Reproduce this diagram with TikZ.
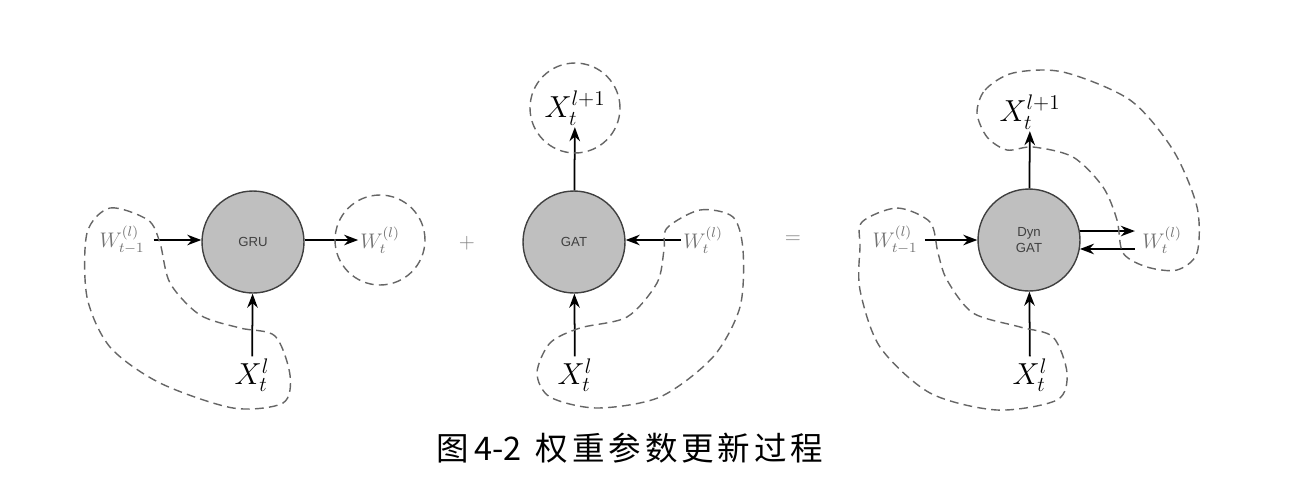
\documentclass[tikz,border=0pt]{standalone}
\usepackage{amsmath}
\usepackage{fontspec}
\newfontfamily\cjk{Noto Sans CJK SC}
\newfontfamily\cjkwide[LetterSpace=12]{Noto Sans CJK SC}
\newfontfamily\unitfont{Liberation Sans}
\usetikzlibrary{arrows.meta}

\begin{document}
\begin{tikzpicture} [
    x=0.02cm, y=-0.02cm,
    unit/.style  = { circle, draw=black!75, thick, fill=black!25,
                     minimum size=2.04cm, inner sep=0pt, align=center,
                     font=\unitfont\fontsize{7.5}{9}\selectfont, text=black!75 },
    var/.style   = { inner sep=1pt, font=\fontsize{18}{20}\selectfont },
    wvar/.style  = { inner sep=1pt, font=\fontsize{12}{14}\selectfont, text=black!55 },
    op/.style    = { font=\fontsize{12}{14}\selectfont, text=black!50 },
    line/.style  = { draw, line width=1pt, -{Stealth[length=8pt, width=6pt]} },
    hull/.style  = { draw=black!60, thick, dash pattern=on 5pt off 3pt },
  ]
  \useasboundingbox (0,0) rectangle (1291,481);

  % GRU
  \node[unit] (gru)    at (253,242) {GRU};
  \node[wvar] (wprev1) at (122,240) {$W_{t-1}^{(l)}$};
  \node[wvar] (wcur1)  at (380,240) {$W_t^{(l)}$};
  \node[var]  (xin1)   at (252,375) {$X_t^l$};
  \node[op]   (plus)   at (467,243) {+};

  % GAT
  \node[unit] (gat)    at (574,242) {GAT};
  \node[var]  (xout2)  at (575,108) {$X_t^{l+1}$};
  \node[wvar] (wcur2)  at (703,240) {$W_t^{(l)}$};
  \node[var]  (xin2)   at (575,375) {$X_t^l$};
  \node[op]   (equal)  at (793,240) {=};

  % DynGAT
  \node[unit] (dyn)    at (1029,240) {Dyn\\GAT};
  \node[wvar] (wprev3) at (895,240) {$W_{t-1}^{(l)}$};
  \node[var]  (xout3)  at (1030,112) {$X_t^{l+1}$};
  \node[wvar] (wcur3)  at (1162,240) {$W_t^{(l)}$};
  \node[var]  (xin3)   at (1030,375) {$X_t^l$};

  % caption
  \node[font=\fontsize{18.5}{20}\selectfont] (caption) at (630,448)
    {\cjk 图\hspace{3pt}4-2\hspace{8pt}\cjkwide 权重参数更新过程};

  % connect the nodes
  \path [line] ([xshift=4pt]wprev1.east) -- (wprev1.east -| gru.west);
  \path [line] (gru.east |- wcur1.west) -- (wcur1.west);
  \path [line] (xin1) -- (gru);
  \path [line] (gat) -- (xout2);
  \path [line] (wcur2.west) -- (wcur2.west -| gat.east);
  \path [line] (xin2) -- (gat);
  \path [line] ([xshift=3pt]wprev3.east) -- (wprev3.east -| dyn.west);
  \path [line] (dyn) -- (xout3);
  \path [line] (xin3) -- (dyn);
  \path [line] (dyn.10) -- ([xshift=-3pt]dyn.10 -| wcur3.west);
  \path [line] ([xshift=-3pt]dyn.-10 -| wcur3.west) -- (dyn.-10);

  % dashed hulls
  \draw [hull] (wcur1) circle (0.9cm);
  \draw [hull] (xout2) circle (0.9cm);
  \draw [hull] plot [smooth cycle] coordinates {(87,233) (110,208) (148,220) (160,243)
    (170,283) (200,315) (240,328) (275,336) (290,375) (283,403) (233,408) (160,383)
    (110,347) (87,297)};
  \draw [hull] plot [smooth cycle] coordinates {(667,228) (700,210) (733,217) (743,250)
    (740,307) (713,357) (660,397) (597,408) (550,397) (537,373) (550,343) (580,328)
    (627,317) (657,283) (664,250)};
  \draw [hull] plot [smooth cycle] coordinates {(862,222) (897,208) (930,222) (938,253)
    (947,280) (973,313) (1020,327) (1053,337) (1067,373) (1057,400) (997,410) (930,393)
    (880,347) (860,290) (860,247)};
  \draw [hull] plot [smooth cycle] coordinates {(977,113) (985,90) (1013,73) (1063,72)
    (1130,100) (1173,150) (1197,207) (1197,253) (1177,270) (1147,267) (1123,253)
    (1117,220) (1103,187) (1073,157) (1033,147) (1007,150) (987,137)};
\end{tikzpicture}
\end{document}
